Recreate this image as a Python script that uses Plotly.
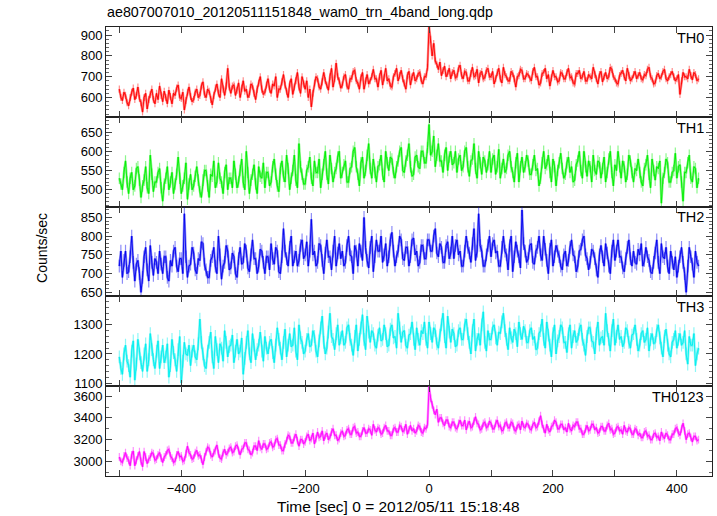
import plotly.graph_objects as go
from plotly.subplots import make_subplots

TITLE = "ae807007010_20120511151848_wam0_trn_4band_long.qdp"
X_TITLE = "Time [sec] 0 = 2012/05/11 15:18:48"
Y_TITLE = "Counts/sec"
PANEL_NAMES = ["TH0", "TH1", "TH2", "TH3", "TH0123"]

T_START = -500
T_BIN = 2.5

TH0 = [
    640, 600, 585, 625, 610, 575, 560, 600, 625, 645, 590, 610, 650, 595, 575, 530, 600, 620, 545, 590, 615, 640, 590, 570,
    620, 590, 655, 610, 580, 630, 600, 570, 635, 605, 570, 620, 610, 645, 660, 600, 595, 625, 540, 585, 625, 650, 605, 580,
    590, 625, 640, 600, 610, 655, 675, 615, 600, 640, 630, 590, 565, 610, 645, 665, 620, 600, 690, 640, 610, 655, 740, 650,
    620, 655, 660, 610, 635, 670, 600, 645, 680, 630, 640, 600, 615, 665, 655, 620, 590, 640, 670, 700, 640, 615, 625, 660,
    690, 640, 620, 665, 655, 700, 600, 640, 640, 675, 710, 660, 630, 600, 665, 690, 615, 650, 680, 720, 650, 620, 700, 665,
    640, 680, 600, 640, 555, 620, 670, 700, 690, 650, 640, 675, 720, 680, 660, 635, 700, 740, 650, 690, 765, 700, 680, 645,
    660, 700, 710, 655, 640, 690, 690, 725, 730, 680, 670, 640, 695, 720, 640, 680, 710, 665, 680, 700, 735, 690, 690, 650,
    700, 730, 660, 695, 740, 680, 690, 655, 650, 700, 715, 740, 680, 705, 730, 690, 670, 640, 705, 725, 660, 700, 720, 680,
    690, 715, 720, 680, 665, 700, 700, 745, 945, 880, 800, 860, 775, 760, 735, 770, 705, 730, 750, 700, 715, 740, 690, 720,
    730, 695, 700, 740, 755, 705, 690, 725, 720, 680, 680, 715, 745, 700, 705, 735, 670, 715, 725, 690, 695, 730, 740, 700,
    700, 725, 665, 690, 720, 740, 690, 670, 745, 710, 700, 680, 680, 725, 715, 690, 650, 700, 705, 735, 730, 690, 690, 715,
    710, 690, 680, 725, 745, 700, 700, 660, 670, 715, 720, 740, 690, 710, 655, 695, 730, 700, 700, 675, 680, 720, 715, 690,
    690, 720, 740, 695, 700, 670, 665, 715, 715, 730, 690, 700, 725, 680, 680, 710, 700, 690, 745, 710, 690, 665, 710, 725,
    675, 700, 720, 690, 700, 745, 735, 700, 690, 670, 665, 705, 715, 730, 700, 680, 740, 705, 680, 690, 710, 725, 690, 705,
    720, 690, 685, 710, 705, 735, 745, 700, 690, 665, 670, 705, 715, 690, 700, 725, 735, 690, 680, 700, 710, 725, 700, 680,
    690, 710, 615, 680, 720, 700, 700, 690, 735, 705, 685, 720, 710, 680, 690,
]

TH1 = [
    530, 515, 500, 545, 575, 520, 490, 530, 545, 500, 510, 555, 560, 525, 480, 510, 525, 560, 505, 490, 590, 540, 495, 520,
    520, 545, 555, 505, 470, 515, 530, 560, 500, 520, 545, 490, 515, 540, 585, 530, 490, 510, 530, 570, 475, 515, 540, 500,
    510, 535, 560, 525, 495, 480, 525, 550, 550, 510, 480, 540, 535, 575, 505, 520, 570, 530, 520, 490, 545, 565, 500, 530,
    530, 505, 575, 540, 505, 520, 550, 580, 520, 500, 600, 545, 490, 525, 540, 565, 515, 490, 560, 535, 530, 570, 505, 545,
    545, 510, 520, 560, 580, 540, 510, 495, 555, 575, 535, 520, 590, 555, 500, 530, 550, 590, 525, 505, 620, 560, 540, 515,
    515, 550, 560, 585, 530, 510, 575, 545, 545, 580, 505, 540, 565, 600, 540, 515, 590, 555, 520, 545, 555, 585, 600, 530,
    545, 565, 575, 520, 520, 555, 560, 600, 610, 560, 540, 510, 570, 585, 530, 550, 590, 620, 555, 530, 580, 545, 520, 560,
    565, 590, 540, 520, 600, 570, 550, 585, 580, 545, 530, 560, 575, 600, 610, 550, 545, 575, 590, 620, 560, 535, 540, 585,
    590, 560, 555, 600, 600, 570, 570, 610, 670, 590, 600, 640, 560, 590, 620, 575, 575, 545, 590, 610, 550, 585, 600, 565,
    570, 600, 545, 580, 590, 550, 560, 600, 610, 560, 535, 575, 580, 620, 555, 530, 600, 570, 540, 585, 575, 545, 565, 600,
    545, 580, 590, 540, 560, 605, 530, 555, 580, 545, 555, 590, 600, 560, 545, 520, 570, 595, 520, 560, 585, 545, 560, 590,
    575, 540, 540, 565, 590, 550, 555, 510, 530, 570, 600, 555, 565, 590, 545, 520, 580, 560, 510, 550, 570, 595, 555, 530,
    540, 570, 585, 545, 560, 520, 525, 565, 575, 600, 550, 530, 600, 560, 535, 575, 560, 520, 590, 550, 540, 575, 570, 530,
    555, 585, 520, 545, 580, 600, 545, 510, 565, 550, 600, 560, 530, 575, 560, 520, 540, 590, 575, 545, 520, 555, 550, 580,
    545, 520, 510, 555, 565, 590, 540, 505, 580, 550, 525, 560, 555, 575, 465, 530, 545, 580, 570, 520, 520, 545, 550, 595,
    530, 560, 565, 520, 470, 545, 545, 570, 590, 530, 520, 560, 555, 505, 530,
]

TH2 = [
    720, 760, 690, 735, 760, 700, 705, 745, 800, 730, 680, 725, 735, 700, 650, 690, 745, 770, 710, 680, 775, 730, 695, 740,
    730, 700, 760, 725, 700, 745, 745, 690, 680, 735, 720, 760, 770, 720, 705, 740, 740, 700, 860, 745, 690, 720, 725, 770,
    755, 710, 700, 740, 735, 785, 780, 725, 710, 690, 690, 735, 745, 770, 720, 700, 800, 750, 685, 720, 730, 775, 760, 710,
    715, 755, 745, 700, 690, 740, 770, 725, 730, 780, 760, 715, 705, 750, 790, 740, 740, 700, 720, 765, 760, 730, 700, 745,
    745, 710, 780, 740, 725, 770, 760, 705, 700, 745, 820, 760, 740, 720, 770, 800, 720, 745, 760, 720, 735, 775, 790, 740,
    750, 785, 720, 760, 845, 750, 760, 720, 730, 780, 775, 735, 700, 755, 790, 745, 745, 710, 760, 800, 720, 755, 780, 740,
    760, 720, 730, 775, 800, 750, 745, 700, 775, 760, 720, 780, 760, 735, 850, 770, 735, 715, 770, 800, 705, 745, 790, 760,
    760, 800, 730, 750, 780, 720, 745, 790, 810, 760, 720, 745, 760, 800, 790, 740, 735, 770, 770, 720, 745, 790, 795, 750,
    760, 720, 730, 775, 775, 740, 740, 790, 790, 760, 760, 800, 820, 755, 745, 780, 770, 730, 730, 775, 785, 740, 755, 800,
    740, 775, 790, 750, 760, 720, 720, 760, 800, 770, 755, 730, 780, 820, 735, 760, 860, 775, 760, 720, 720, 750, 775, 800,
    745, 780, 790, 755, 760, 720, 720, 770, 800, 760, 750, 710, 775, 800, 705, 745, 785, 760, 745, 715, 870, 780, 760, 730,
    740, 775, 780, 730, 725, 760, 770, 800, 750, 735, 800, 765, 735, 700, 765, 790, 720, 745, 775, 760, 745, 720, 710, 750,
    760, 720, 735, 770, 790, 750, 745, 705, 720, 760, 765, 790, 800, 750, 740, 710, 730, 765, 760, 740, 710, 690, 750, 775,
    745, 720, 780, 755, 720, 700, 760, 790, 735, 760, 790, 745, 745, 715, 705, 740, 770, 790, 740, 720, 760, 730, 725, 765,
    750, 780, 720, 735, 770, 745, 735, 705, 700, 730, 755, 790, 730, 700, 780, 745, 740, 770, 720, 700, 760, 730, 710, 745,
    690, 720, 745, 770, 730, 700, 650, 720, 770, 745, 725, 690, 760, 730, 720,
]

TH3 = [
    1190, 1150, 1130, 1200, 1230, 1175, 1160, 1120, 1210, 1245, 1110, 1165, 1250, 1200, 1170, 1140, 1200, 1235, 1140, 1180, 1270, 1215, 1180, 1150,
    1210, 1245, 1150, 1190, 1230, 1170, 1190, 1235, 1120, 1160, 1250, 1205, 1180, 1140, 1215, 1260, 1100, 1175, 1240, 1200, 1195, 1230, 1160, 1210,
    1230, 1190, 1180, 1235, 1320, 1240, 1200, 1160, 1150, 1210, 1240, 1275, 1190, 1150, 1260, 1215, 1170, 1235, 1220, 1175, 1280, 1240, 1190, 1225,
    1230, 1265, 1170, 1210, 1250, 1200, 1210, 1255, 1130, 1185, 1240, 1280, 1200, 1170, 1270, 1230, 1180, 1215, 1230, 1275, 1210, 1175, 1260, 1220,
    1200, 1240, 1250, 1205, 1170, 1230, 1290, 1250, 1220, 1180, 1240, 1285, 1190, 1230, 1270, 1225, 1230, 1290, 1210, 1180, 1300, 1255, 1240, 1200,
    1210, 1250, 1270, 1225, 1230, 1280, 1260, 1210, 1190, 1245, 1290, 1330, 1240, 1200, 1220, 1275, 1340, 1260, 1250, 1215, 1270, 1300, 1230, 1255,
    1280, 1230, 1240, 1290, 1300, 1250, 1230, 1195, 1260, 1300, 1210, 1250, 1290, 1335, 1250, 1215, 1330, 1275, 1240, 1280, 1270, 1230, 1220, 1265,
    1290, 1245, 1250, 1300, 1270, 1225, 1230, 1285, 1300, 1255, 1260, 1220, 1340, 1290, 1240, 1275, 1280, 1230, 1220, 1265, 1270, 1310, 1250, 1215,
    1290, 1250, 1230, 1280, 1270, 1310, 1250, 1220, 1310, 1270, 1240, 1290, 1280, 1235, 1220, 1265, 1300, 1340, 1260, 1220, 1330, 1275, 1240, 1285,
    1270, 1225, 1230, 1280, 1290, 1250, 1250, 1300, 1320, 1270, 1240, 1200, 1280, 1320, 1210, 1250, 1270, 1230, 1300, 1345, 1240, 1210, 1280, 1250,
    1250, 1290, 1300, 1255, 1230, 1275, 1270, 1310, 1340, 1280, 1250, 1215, 1290, 1255, 1240, 1285, 1270, 1225, 1310, 1270, 1250, 1295, 1280, 1240,
    1240, 1280, 1290, 1250, 1260, 1215, 1220, 1270, 1280, 1320, 1250, 1220, 1310, 1265, 1230, 1190, 1270, 1300, 1200, 1245, 1260, 1300, 1290, 1240,
    1240, 1205, 1270, 1300, 1220, 1260, 1280, 1240, 1250, 1285, 1300, 1250, 1230, 1195, 1260, 1290, 1290, 1245, 1240, 1200, 1270, 1310, 1230, 1255,
    1260, 1230, 1340, 1280, 1250, 1210, 1280, 1320, 1230, 1260, 1300, 1250, 1260, 1225, 1240, 1290, 1280, 1240, 1220, 1265, 1270, 1300, 1250, 1210,
    1230, 1270, 1280, 1240, 1250, 1290, 1210, 1250, 1270, 1235, 1240, 1280, 1300, 1255, 1220, 1190, 1260, 1285, 1230, 1200, 1190, 1240, 1250, 1280,
    1220, 1250, 1270, 1230, 1240, 1280, 1200, 1165, 1260, 1230, 1230, 1270, 1160, 1200, 1220,
]

TH0123 = [
    3040, 3000, 2990, 3050, 3080, 3030, 3010, 2960, 3060, 3095, 2960, 3010, 3050, 3090, 3000, 2950, 3090, 3040, 2980, 3020, 3040, 3080, 3070, 3010,
    3020, 3060, 3080, 3030, 2990, 3040, 3060, 3100, 3110, 3050, 3030, 2990, 3000, 3060, 3090, 3040, 3050, 3000, 3010, 3070, 3140, 3080, 3060, 3020,
    3030, 3080, 3100, 3050, 3060, 3020, 2970, 3040, 3090, 3130, 3120, 3060, 3040, 3080, 3100, 3150, 3070, 3030, 3020, 3080, 3110, 3060, 3080, 3120,
    3130, 3080, 3090, 3140, 3150, 3100, 3060, 3110, 3120, 3170, 3170, 3110, 3100, 3060, 3080, 3140, 3140, 3100, 3190, 3130, 3110, 3160, 3160, 3110,
    3120, 3170, 3180, 3130, 3140, 3200, 3210, 3150, 3150, 3100, 3100, 3160, 3190, 3240, 3230, 3170, 3170, 3220, 3250, 3190, 3140, 3200, 3200, 3160,
    3180, 3230, 3250, 3190, 3210, 3260, 3160, 3210, 3270, 3220, 3230, 3280, 3190, 3240, 3260, 3200, 3220, 3270, 3300, 3240, 3240, 3190, 3210, 3260,
    3280, 3230, 3240, 3290, 3300, 3250, 3250, 3310, 3320, 3260, 3270, 3230, 3230, 3280, 3310, 3260, 3260, 3300, 3290, 3240, 3340, 3290, 3270, 3310,
    3300, 3250, 3260, 3310, 3330, 3280, 3280, 3240, 3240, 3300, 3310, 3270, 3270, 3330, 3320, 3270, 3290, 3340, 3250, 3290, 3330, 3280, 3300, 3260,
    3280, 3330, 3320, 3270, 3260, 3310, 3300, 3340, 3690, 3580, 3520, 3470, 3430, 3480, 3360, 3400, 3400, 3350, 3330, 3380, 3380, 3320, 3310, 3360,
    3360, 3310, 3300, 3350, 3380, 3330, 3330, 3380, 3290, 3340, 3370, 3310, 3320, 3370, 3410, 3350, 3340, 3290, 3300, 3350, 3360, 3310, 3320, 3370,
    3350, 3300, 3300, 3350, 3380, 3320, 3330, 3280, 3290, 3350, 3360, 3310, 3310, 3360, 3350, 3290, 3280, 3330, 3340, 3290, 3370, 3320, 3310, 3350,
    3340, 3300, 3290, 3340, 3360, 3310, 3320, 3370, 3420, 3340, 3300, 3260, 3340, 3290, 3270, 3320, 3330, 3380, 3360, 3300, 3300, 3340, 3340, 3290,
    3310, 3270, 3350, 3300, 3280, 3330, 3320, 3360, 3360, 3300, 3300, 3250, 3250, 3300, 3330, 3280, 3290, 3340, 3340, 3290, 3310, 3260, 3270, 3320,
    3320, 3280, 3280, 3330, 3350, 3290, 3300, 3250, 3260, 3310, 3320, 3280, 3290, 3250, 3330, 3280, 3270, 3310, 3300, 3250, 3250, 3300, 3290, 3240,
    3260, 3220, 3220, 3270, 3280, 3230, 3240, 3200, 3200, 3250, 3260, 3220, 3230, 3190, 3270, 3230, 3210, 3260, 3240, 3200, 3200, 3250, 3250, 3300,
    3310, 3260, 3240, 3300, 3350, 3280, 3200, 3250, 3260, 3220, 3180, 3230, 3230, 3190, 3200,
]

# 1-sigma error per bin, one value per band
ERRORS = [17, 15, 17, 22, 36]

SERIES = [TH0, TH1, TH2, TH3, TH0123]
COLORS = ["#ff0000", "#00ee00", "#0000ee", "#00eeee", "#ff00ff"]
HALO = ["rgba(255,0,0,0.45)", "rgba(0,238,0,0.45)", "rgba(0,0,238,0.45)",
        "rgba(0,238,238,0.45)", "rgba(255,0,255,0.45)"]
Y_RANGES = [[507, 939], [456, 690], [639, 879], [1089, 1398], [2865, 3692]]
Y_DTICK = [100, 50, 50, 100, 200]
Y_MINOR = [20, 10, 10, 20, 100]
X_RANGE = [-521.5, 456.7]

FONT = "Liberation Sans, Arial, Helvetica, sans-serif"

fig = make_subplots(rows=5, cols=1, shared_xaxes=True, vertical_spacing=0)

for i, ys in enumerate(SERIES):
    ts = [T_START + T_BIN * k for k in range(len(ys))]
    fig.add_trace(go.Scatter(x=ts, y=ys, mode="lines",
                             line=dict(color=HALO[i], width=2.4),
                             error_y=dict(type="constant", value=ERRORS[i],
                                          color=HALO[i], thickness=1.2, width=0),
                             hoverinfo="skip", showlegend=False),
                  row=i + 1, col=1)
    fig.add_trace(go.Scatter(x=ts, y=ys, mode="lines",
                             line=dict(color=COLORS[i], width=0.9),
                             name=PANEL_NAMES[i], showlegend=False),
                  row=i + 1, col=1)
    fig.update_yaxes(row=i + 1, col=1, range=Y_RANGES[i], dtick=Y_DTICK[i],
                     tick0=0, ticks="inside", ticklen=6, tickcolor="#444",
                     showline=True, linecolor="#222", linewidth=1,
                     mirror="ticks", showgrid=False, zeroline=False,
                     automargin=False,
                     tickfont=dict(size=13, color="black", family=FONT),
                     minor=dict(dtick=Y_MINOR[i], tick0=0, ticks="inside",
                                ticklen=3, tickcolor="#666"))
    fig.update_xaxes(row=i + 1, col=1, range=X_RANGE, dtick=200, tick0=0,
                     ticks="inside", ticklen=6, tickcolor="#444",
                     showline=True, linecolor="#222", linewidth=1,
                     mirror="ticks", showgrid=False, zeroline=False,
                     automargin=False,
                     showticklabels=(i == 4),
                     tickfont=dict(size=13, color="black", family=FONT),
                     minor=dict(dtick=100, tick0=0, ticks="inside",
                                ticklen=6, tickcolor="#444"))
    yref = "y domain" if i == 0 else f"y{i + 1} domain"
    xref = "x domain" if i == 0 else f"x{i + 1} domain"
    fig.add_annotation(text=PANEL_NAMES[i], xref=xref, yref=yref,
                       x=0.99, y=0.99, xanchor="right", yanchor="top",
                       showarrow=False,
                       font=dict(size=14.5, color="black", family=FONT))

fig.add_annotation(text=X_TITLE, xref="paper", yref="paper",
                   x=(398 - 106) / 606, y=-0.069,
                   xanchor="center", yanchor="middle", showarrow=False,
                   font=dict(size=15.5, color="black", family=FONT))

fig.add_annotation(text=Y_TITLE, xref="paper", yref="paper", x=-0.1056, y=0.508,
                   textangle=-90, showarrow=False, xanchor="center",
                   yanchor="middle",
                   font=dict(size=14, color="black", family=FONT))

fig.update_layout(
    width=717, height=516,
    margin=dict(l=106, r=5, t=27, b=40, autoexpand=False),
    paper_bgcolor="white", plot_bgcolor="white",
    title=dict(text=TITLE, x=107 / 717, xanchor="left", y=1 - 12 / 516,
               yanchor="middle", font=dict(size=14.3, color="black", family=FONT)),
    font=dict(family=FONT, color="black"),
)

fig.write_html("out.html",
               config={"displayModeBar": False},
               post_script="document.body.style.margin='0px';"
                           "document.body.style.overflow='hidden';")
